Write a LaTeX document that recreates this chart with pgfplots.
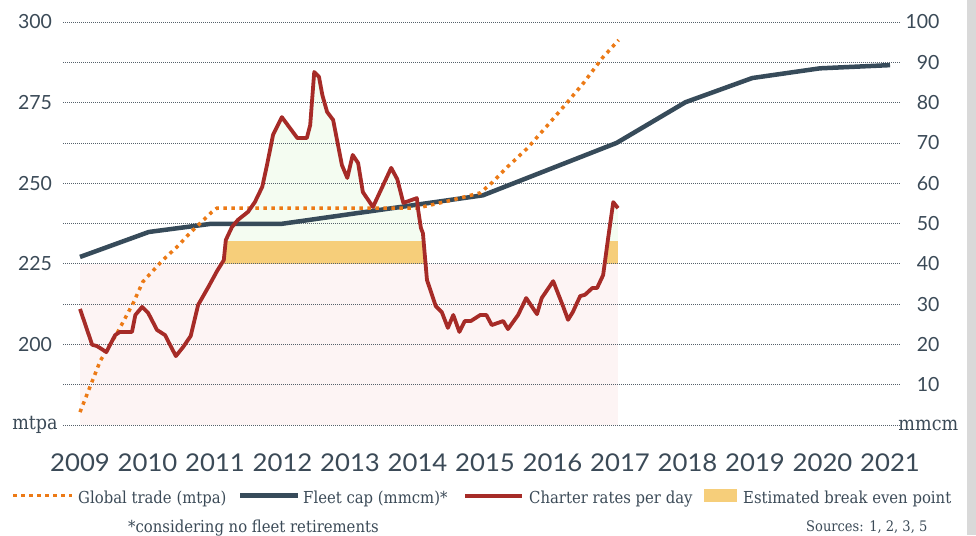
\documentclass[border=0pt]{standalone}
\usepackage{fontspec}
\setmainfont{Lato}
\newfontfamily\legfont[FakeStretch=0.9]{DejaVu Serif}
\newfontfamily\yearfont[FakeStretch=1.05]{Lato}
\usepackage{pgfplots}
\usepackage{pgfplotstable}
\pgfplotsset{compat=1.18}
\definecolor{txt}{HTML}{3B4A57}
\definecolor{fleet}{HTML}{374B5A}
\definecolor{charter}{HTML}{A62B27}
\definecolor{trade}{HTML}{EC7A16}
\definecolor{band}{HTML}{F6CE7A}
\definecolor{pinkfill}{HTML}{FDF4F4}
\definecolor{greenfill}{HTML}{F4FCF1}
\definecolor{gridc}{HTML}{56616B}

% Charter rates per day (right-axis units)
\pgfplotstableread{
year rate
2009.00 28.8
2009.18 19.9
2009.25 19.6
2009.39 18.1
2009.52 22.3
2009.59 23.1
2009.77 23.1
2009.82 27.3
2009.92 29.3
2010.01 27.8
2010.14 23.6
2010.26 22.3
2010.42 17.1
2010.53 19.4
2010.64 22.1
2010.75 29.8
2010.90 34.2
2011.03 38.2
2011.13 40.9
2011.16 45.9
2011.25 49.1
2011.34 50.9
2011.49 52.9
2011.59 55.3
2011.70 59.1
2011.77 64.5
2011.86 72.0
2011.99 76.4
2012.22 71.2
2012.36 71.2
2012.41 74.4
2012.47 87.6
2012.54 86.4
2012.59 81.9
2012.66 77.7
2012.75 75.7
2012.88 64.5
2012.96 61.3
2013.04 67.0
2013.12 65.0
2013.19 57.8
2013.34 54.1
2013.61 63.8
2013.70 61.0
2013.79 55.1
2013.99 56.3
2014.01 53.3
2014.05 48.9
2014.08 47.6
2014.14 36.0
2014.27 29.5
2014.36 28.0
2014.45 24.1
2014.53 27.3
2014.62 23.1
2014.70 25.8
2014.79 25.8
2014.93 27.3
2015.02 27.3
2015.10 24.8
2015.27 25.8
2015.34 23.8
2015.49 27.3
2015.61 31.5
2015.77 27.5
2015.84 31.5
2016.01 35.7
2016.16 29.3
2016.23 26.1
2016.30 28.0
2016.41 32.0
2016.48 32.3
2016.59 34.0
2016.66 34.0
2016.75 37.2
2016.82 45.9
2016.90 55.3
2016.97 53.8
}\charterdata

% Fleet capacity (mmcm)
\pgfplotstableread{
year cap
2009.00 41.7
2010.02 47.9
2010.93 49.9
2011.98 49.9
2014.97 57.0
2016.95 70.0
2017.97 80.1
2018.96 86.1
2019.96 88.5
2021.00 89.3
}\fleetdata

% Global trade (mtpa, left axis)
\pgfplotstableread{
year trade
2009.00 179.0
2009.30 194.9
2009.55 203.5
2009.79 212.9
2009.93 219.4
2010.19 225.3
2010.26 226.8
2010.44 230.3
2010.60 233.9
2010.78 237.6
2010.95 241.0
2011.03 242.3
2014.00 242.3
2014.46 244.5
2014.93 247.0
2015.10 250.1
2015.33 255.0
2015.63 260.9
2015.92 267.8
2016.22 275.1
2016.46 281.1
2016.74 288.9
2016.98 294.4
}\tradedata

% Estimated break-even band (right-axis units)
\pgfplotstableread{
year lo hi
2009.00 40 45.6
2016.97 40 45.6
}\banddata

\pgfplotsset{
  base/.style={
    scale only axis, width=837pt, height=403pt,
    at={(63pt,-425pt)}, anchor=south west,
    xmin=2008.748, xmax=2021.148,
    axis line style={draw=none}, major tick length=0pt,
    tick label style={font=\fontsize{19.5}{20}\selectfont, text=txt},
  },
}

\begin{document}
\begin{tikzpicture}
\fill[gray!30] (967pt,0pt) rectangle (976pt,-535pt);

\begin{axis}[base, set layers,
  ymin=0, ymax=100,
  ytick={0,10,20,30,40,50,60,70,80,90,100},
  yticklabels={\makebox[41pt][l]{\legfont mmcm},10,20,30,40,50,60,70,80,90,100},
  axis y line*=right,
  yticklabel style={anchor=east, xshift=43pt},
  ymajorgrids, grid style={gridc, line width=0.8pt, dash pattern=on 1pt off 1pt},
  xtick={2009,2010,2011,2012,2013,2014,2015,2016,2017,2018,2019,2020,2021},
  xticklabels={2009,2010,2011,2012,2013,2014,2015,2016,2017,2018,2019,2020,2021},
  xticklabel style={anchor=center, yshift=-38pt, font=\yearfont\fontsize{24.5}{25}\selectfont},
]
% background fills (painter's order)
\addplot[fill=greenfill, draw=none, on layer=axis background]
  table[x=year, y=rate] {\charterdata} \closedcycle;
\addplot[fill=band, draw=none, on layer=axis background]
  table[x=year, y=hi] {\banddata} \closedcycle;
\addplot[fill=white, draw=none, on layer=axis background]
  table[x=year, y=rate] {\charterdata} -- (axis cs:2016.97,100) -- (axis cs:2009,100) -- cycle;
\addplot[fill=pinkfill, draw=none, on layer=axis background]
  table[x=year, y=lo] {\banddata} \closedcycle;

% lines
\addplot[fleet, line width=4.5pt, line join=round] table[x=year, y=cap] {\fleetdata};
\addplot[trade, line width=3.5pt, dash pattern=on 3.5pt off 4.5pt,
  y filter/.expression={(y-175)/1.25}] table[x=year, y=trade] {\tradedata};
\addplot[charter, line width=3.8pt, line join=round] table[x=year, y=rate] {\charterdata};
\end{axis}

\begin{axis}[base,
  ymin=175, ymax=300,
  ytick={175,200,225,250,275,300},
  yticklabels={{\legfont mtpa},200,225,250,275,300},
  axis y line*=left, hide x axis,
  yticklabel style={anchor=center, xshift=-28pt},
]
\addplot[draw=none] coordinates {(2010,200) (2011,210)};
\end{axis}

% legend
\begin{scope}[every node/.style={anchor=base west, inner sep=0pt, text=txt, font=\legfont\fontsize{16.5}{18}\selectfont}]
\draw[trade, line width=3.5pt, dash pattern=on 3.5pt off 4.5pt] (13pt,-495.5pt) -- (72pt,-495.5pt);
\node at (78pt,-503pt) {Global trade (mtpa)};
\draw[fleet, line width=4.5pt] (240pt,-495.5pt) -- (298pt,-495.5pt);
\node at (303pt,-503pt) {Fleet cap (mmcm)*};
\draw[charter, line width=4pt] (465pt,-495.5pt) -- (522pt,-495.5pt);
\node at (529pt,-503pt) {Charter rates per day};
\fill[band] (704pt,-489pt) rectangle (737pt,-502pt);
\node at (743pt,-503pt) {Estimated break even point};
\end{scope}

\node[anchor=base west, inner sep=0pt, text=txt, font=\legfont\fontsize{16.5}{18}\selectfont] at (128pt,-532pt) {*considering no fleet retirements};
\node[anchor=base west, inner sep=0pt, text=txt, font=\legfont\fontsize{14.5}{16}\selectfont] at (806pt,-531pt) {Sources: 1, 2, 3, 5};
\pgfresetboundingbox
\path[use as bounding box] (0pt,0pt) rectangle (976pt,-535pt);
\end{tikzpicture}
\end{document}
